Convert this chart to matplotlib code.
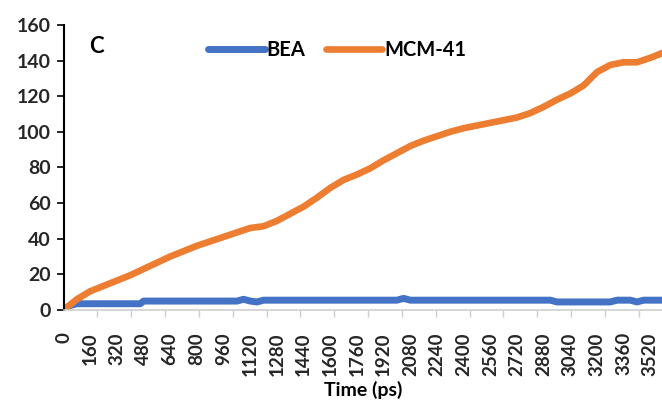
import numpy as np
import matplotlib.pyplot as plt
from matplotlib.ticker import FixedLocator

plt.rcParams['font.family'] = ['Lato', 'DejaVu Sans']

# time axis (ps) and cumulative values
time_mcm = [0, 80, 160, 240, 320, 400, 480, 560, 640, 720, 800, 880, 960, 1040,
            1120, 1200, 1280, 1360, 1440, 1520, 1600, 1680, 1760, 1840, 1920,
            2000, 2080, 2160, 2240, 2320, 2400, 2480, 2560, 2640, 2720, 2800,
            2880, 2960, 3040, 3120, 3200, 3280, 3360, 3440, 3520, 3600]
mcm41 = [0, 6, 10.5, 13.5, 16.5, 19.5, 23, 26.5, 30, 33, 36, 38.5, 41, 43.5,
         46, 47, 50, 54, 58, 63, 68.5, 73, 76, 79.5, 84, 88, 92, 95, 97.5,
         100, 102, 103.5, 105, 106.5, 108, 110.5, 114, 118, 121.5, 126, 133.5,
         137.5, 139, 139, 141.5, 144.5]

time_bea = [0, 40, 80, 460, 480, 1040, 1080, 1120, 1160, 1200, 2000, 2040,
            2080, 2920, 2960, 3280, 3320, 3400, 3440, 3480, 3600]
bea = [0, 2.5, 3.5, 3.5, 5, 5, 6, 5, 4.5, 5.5, 5.5, 6.5, 5.5, 5.5, 4.5, 4.5,
       5.5, 5.5, 4.5, 5.5, 5.5]

label_ticks = list(range(0, 3521, 160))

fig = plt.figure(figsize=(6.62, 4.01), dpi=100)
ax = fig.add_axes([0.096, 0.227, 0.904, 0.711])

ax.plot(time_bea, bea, color='#4472C4', lw=5, solid_capstyle='round', label='BEA')
ax.plot(time_mcm, mcm41, color='#ED7D31', lw=4.8, solid_capstyle='round', label='MCM-41')

ax.set_xlim(0, 3590)
ax.set_ylim(0, 160)
ax.set_yticks(range(0, 161, 20))
ax.set_xticks(label_ticks)
ax.set_xticklabels([str(t) for t in label_ticks], rotation=90)
ax.xaxis.set_minor_locator(FixedLocator(np.arange(203, 3590, 203)))

ax.tick_params(axis='y', direction='out', length=5, width=1.2, color='black',
               labelsize=14, pad=4)
ax.tick_params(axis='x', which='major', length=0, labelsize=13.5, pad=16)
ax.tick_params(axis='x', which='minor', direction='out', length=5, width=1,
               color='#d0d0d0')
for lbl in ax.get_xticklabels() + ax.get_yticklabels():
    lbl.set_fontweight('bold')
    lbl.set_color('#262626')

for side in ['top', 'right']:
    ax.spines[side].set_visible(False)
ax.spines['left'].set_linewidth(1.5)
ax.spines['bottom'].set_color('#d0d0d0')
ax.spines['bottom'].set_linewidth(1.2)

ax.set_xlabel('Time (ps)', fontsize=14, fontweight='bold', labelpad=4)
ax.text(0.055, 0.925, 'C', transform=ax.transAxes, fontsize=16,
        fontweight='bold', va='center', ha='center')

leg = ax.legend(loc='center left', bbox_to_anchor=(0.242, 0.912), ncol=2,
                frameon=False, handlelength=2.8, handletextpad=0.1,
                columnspacing=1.0, borderaxespad=0, borderpad=0,
                prop={'weight': 'bold', 'size': 14.5})

fig.savefig('out.png', dpi=100)
